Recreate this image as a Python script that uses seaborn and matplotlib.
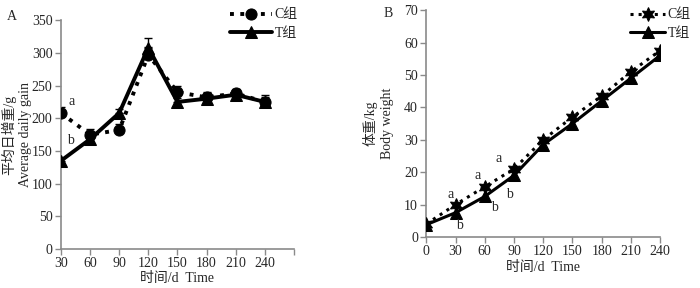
import numpy as np
import seaborn as sns
import matplotlib.pyplot as plt

# panel A: average daily gain
days_a = [30, 60, 90, 120, 150, 180, 210, 240]
gain_c = [208, 175, 182, 297, 240, 232, 238, 225]
gain_t = [135, 168, 208, 308, 225, 230, 236, 225]
err_gain_c = [10, 8, 9, 12, 9, 8, 7, 8]
err_gain_t = [4, 9, 6, 15, 6, 9, 7, 10]

# panel B: body weight
days_b = [0, 30, 60, 90, 120, 150, 180, 210, 240]
weight_c = [4.0, 10.0, 15.5, 21.0, 30.0, 37.0, 43.5, 51.0, 57.5]
weight_t = [3.8, 7.5, 12.5, 19.0, 28.5, 35.0, 42.0, 49.0, 56.0]

sns.set_style('ticks')
plt.rcParams['font.family'] = ['Liberation Serif', 'Noto Sans CJK SC']
plt.rcParams['font.size'] = 10

fig = plt.figure(figsize=(7, 2.88), dpi=100)
ax1 = fig.add_axes([0.087, 0.135, 0.333, 0.795])
ax2 = fig.add_axes([0.609, 0.177, 0.334, 0.788])

spine_col = '#8a8a8a'

# A
ax1.errorbar(days_a, gain_c, yerr=[np.zeros(len(err_gain_c)), err_gain_c], fmt='none',
             ecolor='black', elinewidth=1, capsize=3, zorder=2)
ax1.errorbar(days_a, gain_t, yerr=[np.zeros(len(err_gain_t)), err_gain_t], fmt='none',
             ecolor='black', elinewidth=1, capsize=3, zorder=2)
sns.lineplot(x=days_a, y=gain_c, ax=ax1, color='black', linestyle=':', linewidth=2.8,
             marker='o', markersize=8, markeredgecolor='black', label='C组', zorder=3)
sns.lineplot(x=days_a, y=gain_t, ax=ax1, color='black', linestyle='-', linewidth=2.8,
             marker='^', markersize=8, markeredgecolor='black', label='T组', zorder=3)
ax1.set_xlim(30, 270)
ax1.set_ylim(0, 350)
ax1.set_xticks(days_a + [270])
ax1.set_xticklabels([str(d) for d in days_a] + [''])
ax1.set_yticks(range(0, 351, 50))
ax1.set_xlabel('时间/d  Time', labelpad=1)
ax1.set_ylabel('平均日增重/g\nAverage daily gain', linespacing=1.3)
ax1.yaxis.set_label_coords(-0.125, 0.5)
ax1.text(38, 220, 'a')
ax1.text(36, 160, 'b')
ax1.text(-0.23, 1.0, 'A', transform=ax1.transAxes, fontsize=10)
ax1.legend(loc='upper right', bbox_to_anchor=(0.435, 0.995), bbox_transform=fig.transFigure,
           frameon=False, handlelength=3, borderpad=0, labelspacing=0.4, handletextpad=0.2)

# B
sns.lineplot(x=days_b, y=weight_c, ax=ax2, color='black', linestyle=':', linewidth=2.2,
             marker=(6, 1, 0), markersize=10, markeredgecolor='black', label='C组', zorder=3)
sns.lineplot(x=days_b, y=weight_t, ax=ax2, color='black', linestyle='-', linewidth=2.2,
             marker='^', markersize=8, markeredgecolor='black', label='T组', zorder=3)
ax2.set_xlim(0, 240)
ax2.set_ylim(0, 70)
ax2.set_xticks(days_b)
ax2.set_yticks(range(0, 71, 10))
ax2.set_xlabel('时间/d  Time', labelpad=2)
ax2.set_ylabel('体重/kg\nBody weight', linespacing=1.3)
ax2.yaxis.set_label_coords(-0.14, 0.5)
for x, y in [(22, 12), (49, 18), (71, 23)]:
    ax2.text(x, y, 'a')
for x, y in [(31, 2.5), (66, 8), (82, 12)]:
    ax2.text(x, y, 'b')
ax2.text(-0.185, 0.97, 'B', transform=ax2.transAxes, fontsize=10)
ax2.legend(loc='upper right', bbox_to_anchor=(0.997, 0.995), bbox_transform=fig.transFigure,
           frameon=False, handlelength=2.5, borderpad=0, labelspacing=0.4, handletextpad=0.2)

for ax in (ax1, ax2):
    sns.despine(ax=ax)
    for s in ('left', 'bottom'):
        ax.spines[s].set_color(spine_col)
        ax.spines[s].set_linewidth(1.2)
    ax.tick_params(color=spine_col, length=4, width=1, pad=2)

fig.savefig('out.png', dpi=100)
